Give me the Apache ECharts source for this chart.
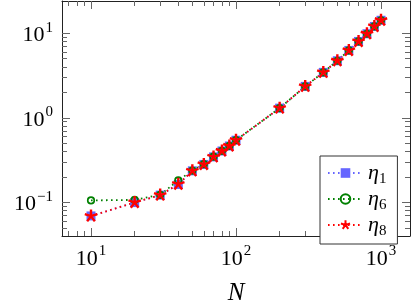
<!DOCTYPE html>
<html>
<head>
<meta charset="utf-8">
<script src="https://cdn.jsdelivr.net/npm/echarts@6/dist/echarts.min.js"></script>
<style>
  html, body { margin: 0; padding: 0; background: #fff; }
  #chart { width: 411px; height: 303px; }
</style>
</head>
<body>
<div id="chart"></div>
<script>
// problem sizes N
var nValues = [10, 20, 30, 40, 50, 60, 70, 80, 90, 100, 200, 300, 400, 500, 600, 700, 800, 900, 1000];
// measured values per estimator
var eta1 = [0.0692, 0.0995, 0.122, 0.163, 0.236, 0.281, 0.345, 0.405, 0.464, 0.543, 1.30, 2.35, 3.44, 4.72, 6.25, 7.98, 9.84, 12.0, 14.2];
var eta6 = [0.1056, 0.107, 0.123, 0.182, 0.238, 0.283, 0.347, 0.407, 0.466, 0.545, 1.30, 2.35, 3.44, 4.72, 6.25, 7.98, 9.84, 12.0, 14.2];
var eta8 = [0.0689, 0.0998, 0.122, 0.164, 0.236, 0.281, 0.345, 0.405, 0.464, 0.543, 1.30, 2.35, 3.44, 4.72, 6.25, 7.98, 9.84, 12.0, 14.2];
var seriesNames = ["η1", "η6", "η8"];

// tick positions
var xMajor = [10, 100, 1000];
var xMinor = [7, 8, 9, 20, 30, 40, 50, 60, 70, 80, 90, 200, 300, 400, 500, 600, 700, 800, 900];
var yMajor = [0.1, 1, 10];
var yMinor = [0.05, 0.06, 0.07, 0.08, 0.09, 0.2, 0.3, 0.4, 0.5, 0.6, 0.7, 0.8, 0.9, 2, 3, 4, 5, 6, 7, 8, 9];

var xMin = Math.pow(10, 0.8), xMax = Math.pow(10, 3.2);
var yMin = Math.pow(10, -1.397), yMax = Math.pow(10, 1.38);

var serif = "Liberation Serif";
var starPath = "path://M0,0L0,-10M0,0L9.51,-3.09M0,0L5.88,8.09M0,0L-5.88,8.09M0,0L-9.51,-3.09M-10,-10L-10,-10M10,10L10,10";

function pairs(ys) {
    var out = [];
    for (var i = 0; i < nValues.length; i++) {
        out.push([nValues[i], ys[i]]);
    }
    return out;
}

function powLabel(v) {
    var e = Math.round(Math.log10(v));
    return "{b|10}{s|" + (e < 0 ? "\u2212" + (-e) : e) + "}";
}

var labelRich = {
    b: { fontFamily: serif, fontSize: 22, color: "#000", lineHeight: 26, verticalAlign: "bottom" },
    s: { fontFamily: serif, fontSize: 15, color: "#000", lineHeight: 26, verticalAlign: "top", padding: [0, 0, 0, 1] }
};

function axis(dim, pos, major, labels) {
    var a = {
        type: "log",
        logBase: 10,
        position: pos,
        min: dim == "x" ? xMin : yMin,
        max: dim == "x" ? xMax : yMax,
        axisLine: { show: major, onZero: false, lineStyle: { color: "#222", width: 1 } },
        axisTick: {
            show: true,
            inside: true,
            length: major ? 8 : 5,
            customValues: dim == "x" ? (major ? xMajor : xMinor) : (major ? yMajor : yMinor),
            lineStyle: { color: "#666", width: 1 }
        },
        axisLabel: { show: false },
        minorTick: { show: false },
        splitLine: { show: false }
    };
    if (labels) {
        a.axisLabel = {
            show: true,
            customValues: dim == "x" ? xMajor : yMajor,
            formatter: powLabel,
            margin: dim == "x" ? 8 : 9,
            rich: labelRich
        };
    }
    return a;
}

var xAxes = [axis("x", "bottom", true, true), axis("x", "bottom", false), axis("x", "top", true), axis("x", "top", false)];
xAxes[0].name = "N";
xAxes[0].nameLocation = "middle";
xAxes[0].nameGap = 45;
xAxes[0].nameTextStyle = { fontFamily: serif, fontStyle: "italic", fontSize: 25, color: "#000" };

var yAxes = [axis("y", "left", true, true), axis("y", "left", false), axis("y", "right", true), axis("y", "right", false)];

var chart = echarts.init(document.getElementById("chart"), null, { renderer: "canvas" });
chart.setOption({
    animation: false,
    backgroundColor: "#fff",
    grid: { left: 62, right: 1, top: 1, bottom: 67, outerBoundsMode: "none" },
    xAxis: xAxes,
    yAxis: yAxes,
    legend: {
        orient: "vertical",
        left: 320,
        top: 156,
        padding: [6, 11, 5, 7],
        itemGap: 1,
        itemWidth: 35,
        itemHeight: 12,
        borderColor: "#333",
        borderWidth: 1,
        backgroundColor: "#fff",
        data: seriesNames,
        formatter: function(name) {
            return "{e|η}{n|" + name.slice(1) + "}";
        },
        textStyle: {
            lineHeight: 20,
            rich: {
                e: { fontFamily: serif, fontStyle: "italic", fontSize: 22, color: "#000", lineHeight: 20 },
                n: { fontFamily: serif, fontSize: 15, color: "#000", lineHeight: 20, verticalAlign: "bottom", padding: [0, 0, -4, 0] }
            }
        }
    },
    series: [
        {
            name: seriesNames[0],
            type: "line",
            data: pairs(eta1),
            symbol: "rect",
            symbolSize: 9,
            itemStyle: { color: "#6666ff" },
            lineStyle: { color: "#6666ff", width: 1.8, type: [1.6, 3.4] }
        },
        {
            name: seriesNames[1],
            type: "line",
            data: pairs(eta6),
            symbol: "circle",
            symbolSize: 6.5,
            itemStyle: { color: "rgba(0,0,0,0)", borderColor: "#008000", borderWidth: 1.7 },
            lineStyle: { color: "#008000", width: 1.8, type: [1.6, 3.4] }
        },
        {
            name: seriesNames[2],
            type: "line",
            data: pairs(eta8),
            symbol: starPath,
            symbolSize: 13,
            itemStyle: { color: "#ff0000", borderColor: "#ff0000", borderWidth: 2.4 },
            lineStyle: { color: "#ff0000", width: 1.8, type: [1.6, 3.4] }
        }
    ]
});
</script>
</body>
</html>
